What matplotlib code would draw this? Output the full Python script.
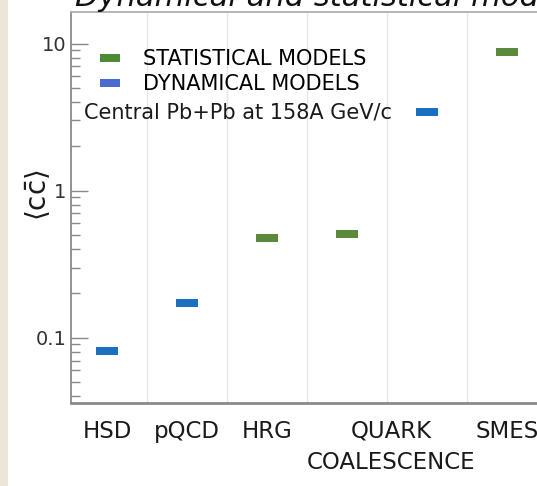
import matplotlib
matplotlib.use("Agg")
import matplotlib.pyplot as plt
from matplotlib.path import Path
from matplotlib.lines import Line2D
from matplotlib.patches import Rectangle

# ---- data ----
model_pos = [0.5, 1.5, 2.5, 3.5, 4.5, 5.5]
model_vals = [0.081, 0.172, 0.478, 0.507, 3.43, 8.78]
model_kind = ["dyn", "dyn", "stat", "stat", "dyn", "stat"]
tick_pos = [0.5, 1.5, 2.5, 4.05, 5.5]
tick_labels = ["HSD", "pQCD", "HRG", "QUARK\nCOALESCENCE", "SMES"]
legend_labels = ["STATISTICAL MODELS", "DYNAMICAL MODELS"]
note = "Central Pb+Pb at 158A GeV/c"
title = "Dynamical and statistical models"

colors = {"stat": "#5a8a3a", "dyn": "#1a6fc0"}
legend_colors = ["#4f8a35", "#4a6cd0"]

plt.rcParams['font.family'] = ['DejaVu Sans']

W, H = 537, 486
fig = plt.figure(figsize=(W / 100, H / 100), dpi=100)
fig.patch.set_facecolor("white")
fig.patches.append(Rectangle((0, 0), 8 / W, 1, transform=fig.transFigure,
                             facecolor="#eee5d9", edgecolor="none", zorder=0))

ax = fig.add_axes([71 / W, 83 / H, 476 / W, 391 / H])
ax.set_yscale("log")
ax.set_xlim(0.05, 6.0)
ax.set_ylim(0.036, 16.4)

rect = Path([(-1.35, -0.5), (1.35, -0.5), (1.35, 0.5), (-1.35, 0.5), (-1.35, -0.5)],
            [Path.MOVETO, Path.LINETO, Path.LINETO, Path.LINETO, Path.CLOSEPOLY])

for x, v, k in zip(model_pos, model_vals, model_kind):
    ax.plot([x], [v], linestyle="none", marker=rect, markersize=15.8,
            markerfacecolor=colors[k], markeredgewidth=0, zorder=3)

# grid separators
ax.set_xticks([1, 2, 3, 4, 5], minor=True)
ax.grid(True, which="minor", axis="x", color="#e6e6e6", linewidth=1.0)
ax.set_xticks(tick_pos)
ax.set_xticklabels(tick_labels, fontsize=16.5, color="#1a1a1a", linespacing=1.45)
ax.tick_params(axis="x", which="both", length=0, pad=12)

ax.tick_params(axis="y", which="major", direction="in", length=12, width=1,
               color="#888888", labelsize=14, labelcolor="#333333", pad=3.5)
ax.tick_params(axis="y", which="minor", direction="in", length=6.5, width=1,
               color="#888888")
ax.set_yticks([0.1, 1, 10])
ax.set_yticklabels(["0.1", "1", "10"])

for s in ["left", "bottom", "top"]:
    ax.spines[s].set_color("#8a8a8a")
ax.spines["left"].set_linewidth(1.3)
ax.spines["bottom"].set_linewidth(2.0)
ax.spines["top"].set_linewidth(1.3)
ax.spines["top"].set_color("#b0b0b0")
ax.spines["right"].set_visible(False)

handles = [Line2D([], [], linestyle="none", marker=rect, markersize=15,
                  markerfacecolor=c, markeredgewidth=0) for c in legend_colors]
ax.legend(handles, legend_labels, loc="upper left", bbox_to_anchor=(0.038, 0.905),
          borderaxespad=0, borderpad=0, frameon=False, fontsize=15,
          handlelength=2.0, handletextpad=0.59, labelspacing=0.25)

ax.text(0.027, 0.744, note, transform=ax.transAxes, fontsize=15,
        va="center", ha="left", color="#1a1a1a")

fig.text(38 / W, 1 - 195 / H, r"$\langle\mathrm{c}\bar{\mathrm{c}}\rangle$",
         rotation=90, ha="center", va="center", fontsize=20, color="#1a1a1a")

fig.text(75 / W, 1 - 6 / H, title, fontsize=22, style="italic",
         ha="left", va="baseline", color="#111111")

fig.savefig("out.png", dpi=100)
